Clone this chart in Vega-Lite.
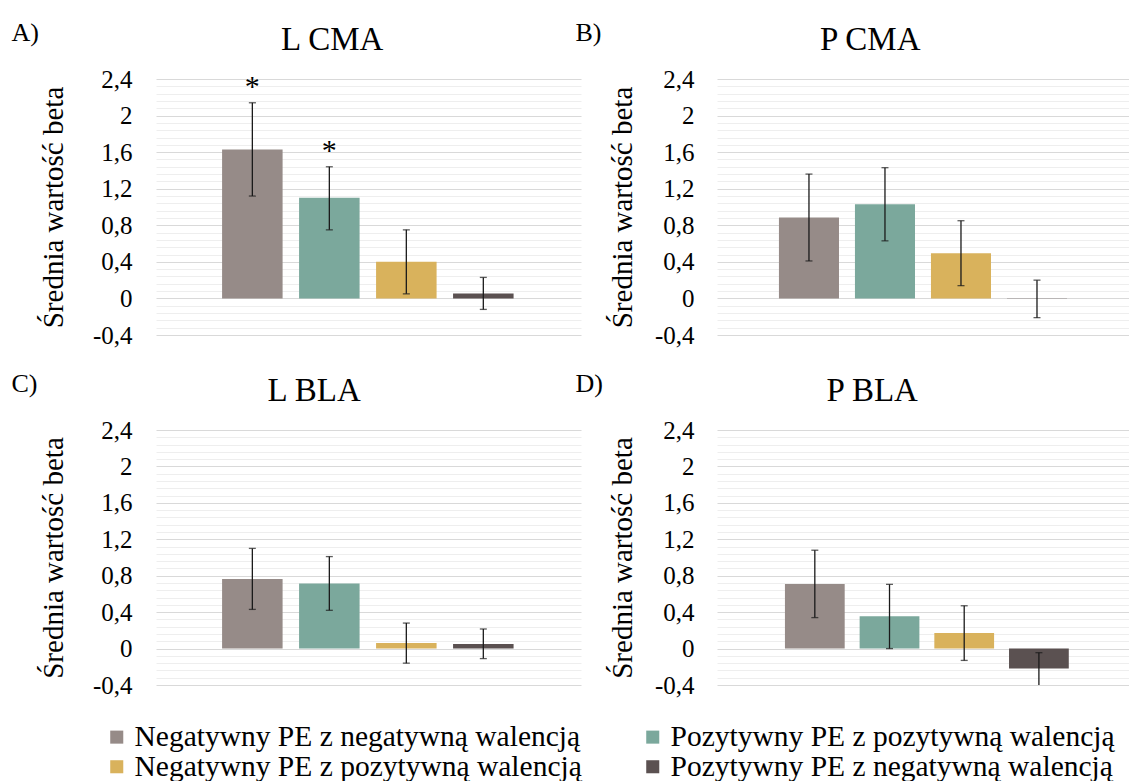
{
  "$schema": "https://vega.github.io/schema/vega-lite/v6.json",
  "padding": {"left": 11, "top": 20, "right": 0, "bottom": 0},
  "background": "white",
  "config": {
    "font": "Liberation Serif",
    "view": {"stroke": null},
    "title": {"font": "Liberation Serif", "fontWeight": "normal", "color": "#000"},
    "axis": {"labelFont": "Liberation Serif", "titleFont": "Liberation Serif"}
  },
  "datasets": {
    "bars": [
      {"panel": "L CMA", "series": "Negatywny PE z negatywną walencją", "mean": 1.63, "lo": 1.12, "hi": 2.14, "sig": "*"},
      {"panel": "L CMA", "series": "Pozytywny PE z pozytywną walencją", "mean": 1.1, "lo": 0.75, "hi": 1.44, "sig": "*"},
      {"panel": "L CMA", "series": "Negatywny PE z pozytywną walencją", "mean": 0.4, "lo": 0.05, "hi": 0.75, "sig": ""},
      {"panel": "L CMA", "series": "Pozytywny PE z negatywną walencją", "mean": 0.055, "lo": -0.12, "hi": 0.23, "sig": ""},
      {"panel": "P CMA", "series": "Negatywny PE z negatywną walencją", "mean": 0.885, "lo": 0.41, "hi": 1.36, "sig": ""},
      {"panel": "P CMA", "series": "Pozytywny PE z pozytywną walencją", "mean": 1.03, "lo": 0.63, "hi": 1.43, "sig": ""},
      {"panel": "P CMA", "series": "Negatywny PE z pozytywną walencją", "mean": 0.495, "lo": 0.14, "hi": 0.85, "sig": ""},
      {"panel": "P CMA", "series": "Pozytywny PE z negatywną walencją", "mean": -0.004, "lo": -0.21, "hi": 0.2, "sig": ""},
      {"panel": "L BLA", "series": "Negatywny PE z negatywną walencją", "mean": 0.765, "lo": 0.43, "hi": 1.1, "sig": ""},
      {"panel": "L BLA", "series": "Pozytywny PE z pozytywną walencją", "mean": 0.715, "lo": 0.42, "hi": 1.01, "sig": ""},
      {"panel": "L BLA", "series": "Negatywny PE z pozytywną walencją", "mean": 0.06, "lo": -0.16, "hi": 0.28, "sig": ""},
      {"panel": "L BLA", "series": "Pozytywny PE z negatywną walencją", "mean": 0.05, "lo": -0.11, "hi": 0.215, "sig": ""},
      {"panel": "P BLA", "series": "Negatywny PE z negatywną walencją", "mean": 0.71, "lo": 0.34, "hi": 1.08, "sig": ""},
      {"panel": "P BLA", "series": "Pozytywny PE z pozytywną walencją", "mean": 0.355, "lo": 0.0, "hi": 0.705, "sig": ""},
      {"panel": "P BLA", "series": "Negatywny PE z pozytywną walencją", "mean": 0.17, "lo": -0.13, "hi": 0.47, "sig": ""},
      {"panel": "P BLA", "series": "Pozytywny PE z negatywną walencją", "mean": -0.22, "lo": -0.41, "hi": -0.045, "sig": ""}
    ]
  },
  "spacing": 23,
  "vconcat": [
    {
      "spacing": -6,
      "hconcat": [
        {
          "title": {"text": "A)", "anchor": "start", "frame": "bounds", "fontSize": 26, "dx": -28, "offset": -22},
          "vconcat": [
            {
              "width": 425, "height": 256,
              "title": {"text": "L CMA", "fontSize": 33, "anchor": "middle", "frame": "bounds", "offset": 10, "dx": 22},
              "data": {"name": "bars"},
              "transform": [{"filter": "datum.panel === 'L CMA'"}],
              "encoding": {"x": {"field": "series", "type": "nominal", "sort": ["Negatywny PE z negatywną walencją", "Pozytywny PE z pozytywną walencją", "Negatywny PE z pozytywną walencją", "Pozytywny PE z negatywną walencją"], "axis": null, "scale": {"paddingInner": 0.214, "paddingOuter": 0.867, "align": 0.495}}},
              "layer": [
                {"mark": {"type": "bar"}, "encoding": {
                  "y": {"field": "mean", "type": "quantitative", "scale": {"domain": [-0.4, 2.4], "nice": false, "zero": false}, "axis": {"orient": "left", "values": [-0.32, -0.24, -0.16, -0.08, 0.08, 0.16, 0.24, 0.32, 0.48, 0.56, 0.64, 0.72, 0.88, 0.96, 1.04, 1.12, 1.28, 1.36, 1.44, 1.52, 1.68, 1.76, 1.84, 1.92, 2.08, 2.16, 2.24, 2.32], "grid": true, "gridColor": "#eeeeee", "labels": false, "ticks": false, "domain": false, "title": null}},
                  "color": {"field": "series", "type": "nominal", "scale": {"domain": ["Negatywny PE z negatywną walencją", "Pozytywny PE z pozytywną walencją", "Negatywny PE z pozytywną walencją", "Pozytywny PE z negatywną walencją"], "range": ["#968B88", "#7BA89C", "#D9B25C", "#5B5151"]}, "legend": {"orient": "none", "legendX": -54, "legendY": 643, "direction": "horizontal", "columns": 2, "title": null, "symbolType": "square", "symbolSize": 170, "symbolStrokeWidth": 0, "labelFontSize": 29.5, "labelFont": "Liberation Serif", "labelColor": "#000", "labelLimit": 0, "columnPadding": 56, "rowPadding": -2, "labelOffset": 3}}
                }},
                {"mark": {"type": "rule", "color": "#1a1a1a", "strokeWidth": 1.3, "clip": true}, "encoding": {
                  "y": {"field": "lo", "type": "quantitative", "axis": {"orient": "left", "values": [-0.4, 0, 0.4, 0.8, 1.2, 1.6, 2, 2.4], "labelExpr": "replace('' + datum.value, '.', ',')", "grid": true, "gridColor": "#d9d9d9", "domain": false, "ticks": false, "labelFontSize": 25, "labelColor": "#000", "labelPadding": 24, "title": "Średnia wartość beta", "titleFontSize": 29, "titleFontWeight": "normal", "titleColor": "#000", "titlePadding": 24}},
                  "y2": {"field": "hi"}
                }},
                {"mark": {"type": "tick", "color": "#1a1a1a", "size": 7, "thickness": 1.3, "clip": true}, "encoding": {"y": {"field": "lo", "type": "quantitative", "axis": null}}},
                {"mark": {"type": "tick", "color": "#1a1a1a", "size": 7, "thickness": 1.3, "clip": true}, "encoding": {"y": {"field": "hi", "type": "quantitative", "axis": null}}},
                {"transform": [{"filter": "datum.sig === '*'"}], "mark": {"type": "text", "fontSize": 30, "baseline": "alphabetic", "dy": -7, "color": "#000"}, "encoding": {"y": {"field": "hi", "type": "quantitative", "axis": null}, "text": {"field": "sig"}}}
              ],
              "resolve": {"axis": {"y": "independent"}}
            }
          ]
        },
        {
          "title": {"text": "B)", "anchor": "start", "frame": "bounds", "fontSize": 26, "dx": -33, "offset": -22},
          "vconcat": [
            {
              "width": 415, "height": 256,
              "title": {"text": "P CMA", "fontSize": 33, "anchor": "middle", "frame": "bounds", "offset": 10},
              "data": {"name": "bars"},
              "transform": [{"filter": "datum.panel === 'P CMA'"}],
              "encoding": {"x": {"field": "series", "type": "nominal", "sort": ["Negatywny PE z negatywną walencją", "Pozytywny PE z pozytywną walencją", "Negatywny PE z pozytywną walencją", "Pozytywny PE z negatywną walencją"], "axis": null, "scale": {"paddingInner": 0.21, "paddingOuter": 0.835, "align": 0.488}}},
              "layer": [
                {"mark": {"type": "bar"}, "encoding": {
                  "y": {"field": "mean", "type": "quantitative", "scale": {"domain": [-0.4, 2.4], "nice": false, "zero": false}, "axis": {"orient": "left", "values": [-0.32, -0.24, -0.16, -0.08, 0.08, 0.16, 0.24, 0.32, 0.48, 0.56, 0.64, 0.72, 0.88, 0.96, 1.04, 1.12, 1.28, 1.36, 1.44, 1.52, 1.68, 1.76, 1.84, 1.92, 2.08, 2.16, 2.24, 2.32], "grid": true, "gridColor": "#eeeeee", "labels": false, "ticks": false, "domain": false, "title": null}},
                  "color": {"field": "series", "type": "nominal", "scale": {"domain": ["Negatywny PE z negatywną walencją", "Pozytywny PE z pozytywną walencją", "Negatywny PE z pozytywną walencją", "Pozytywny PE z negatywną walencją"], "range": ["#968B88", "#7BA89C", "#D9B25C", "#5B5151"]}, "legend": {"orient": "none", "legendX": -54, "legendY": 643, "direction": "horizontal", "columns": 2, "title": null, "symbolType": "square", "symbolSize": 170, "symbolStrokeWidth": 0, "labelFontSize": 29.5, "labelFont": "Liberation Serif", "labelColor": "#000", "labelLimit": 0, "columnPadding": 56, "rowPadding": -2, "labelOffset": 3}}
                }},
                {"mark": {"type": "rule", "color": "#1a1a1a", "strokeWidth": 1.3, "clip": true}, "encoding": {
                  "y": {"field": "lo", "type": "quantitative", "axis": {"orient": "left", "values": [-0.4, 0, 0.4, 0.8, 1.2, 1.6, 2, 2.4], "labelExpr": "replace('' + datum.value, '.', ',')", "grid": true, "gridColor": "#d9d9d9", "domain": false, "ticks": false, "labelFontSize": 25, "labelColor": "#000", "labelPadding": 23, "title": "Średnia wartość beta", "titleFontSize": 29, "titleFontWeight": "normal", "titleColor": "#000", "titlePadding": 17}},
                  "y2": {"field": "hi"}
                }},
                {"mark": {"type": "tick", "color": "#1a1a1a", "size": 7, "thickness": 1.3, "clip": true}, "encoding": {"y": {"field": "lo", "type": "quantitative", "axis": null}}},
                {"mark": {"type": "tick", "color": "#1a1a1a", "size": 7, "thickness": 1.3, "clip": true}, "encoding": {"y": {"field": "hi", "type": "quantitative", "axis": null}}}
              ],
              "resolve": {"axis": {"y": "independent"}}
            }
          ]
        }
      ]
    },
    {
      "spacing": -6,
      "hconcat": [
        {
          "title": {"text": "C)", "anchor": "start", "frame": "bounds", "fontSize": 26, "dx": -28, "offset": -22},
          "vconcat": [
            {
              "width": 425, "height": 255,
              "title": {"text": "L BLA", "fontSize": 33, "anchor": "middle", "frame": "bounds", "offset": 10, "dx": 4},
              "data": {"name": "bars"},
              "transform": [{"filter": "datum.panel === 'L BLA'"}],
              "encoding": {"x": {"field": "series", "type": "nominal", "sort": ["Negatywny PE z negatywną walencją", "Pozytywny PE z pozytywną walencją", "Negatywny PE z pozytywną walencją", "Pozytywny PE z negatywną walencją"], "axis": null, "scale": {"paddingInner": 0.214, "paddingOuter": 0.867, "align": 0.495}}},
              "layer": [
                {"mark": {"type": "bar"}, "encoding": {
                  "y": {"field": "mean", "type": "quantitative", "scale": {"domain": [-0.4, 2.4], "nice": false, "zero": false}, "axis": {"orient": "left", "values": [-0.32, -0.24, -0.16, -0.08, 0.08, 0.16, 0.24, 0.32, 0.48, 0.56, 0.64, 0.72, 0.88, 0.96, 1.04, 1.12, 1.28, 1.36, 1.44, 1.52, 1.68, 1.76, 1.84, 1.92, 2.08, 2.16, 2.24, 2.32], "grid": true, "gridColor": "#eeeeee", "labels": false, "ticks": false, "domain": false, "title": null}},
                  "color": {"field": "series", "type": "nominal", "scale": {"domain": ["Negatywny PE z negatywną walencją", "Pozytywny PE z pozytywną walencją", "Negatywny PE z pozytywną walencją", "Pozytywny PE z negatywną walencją"], "range": ["#968B88", "#7BA89C", "#D9B25C", "#5B5151"]}, "legend": {"orient": "none", "legendX": -54, "legendY": 643, "direction": "horizontal", "columns": 2, "title": null, "symbolType": "square", "symbolSize": 170, "symbolStrokeWidth": 0, "labelFontSize": 29.5, "labelFont": "Liberation Serif", "labelColor": "#000", "labelLimit": 0, "columnPadding": 56, "rowPadding": -2, "labelOffset": 3}}
                }},
                {"mark": {"type": "rule", "color": "#1a1a1a", "strokeWidth": 1.3, "clip": true}, "encoding": {
                  "y": {"field": "lo", "type": "quantitative", "axis": {"orient": "left", "values": [-0.4, 0, 0.4, 0.8, 1.2, 1.6, 2, 2.4], "labelExpr": "replace('' + datum.value, '.', ',')", "grid": true, "gridColor": "#d9d9d9", "domain": false, "ticks": false, "labelFontSize": 25, "labelColor": "#000", "labelPadding": 24, "title": "Średnia wartość beta", "titleFontSize": 29, "titleFontWeight": "normal", "titleColor": "#000", "titlePadding": 24}},
                  "y2": {"field": "hi"}
                }},
                {"mark": {"type": "tick", "color": "#1a1a1a", "size": 7, "thickness": 1.3, "clip": true}, "encoding": {"y": {"field": "lo", "type": "quantitative", "axis": null}}},
                {"mark": {"type": "tick", "color": "#1a1a1a", "size": 7, "thickness": 1.3, "clip": true}, "encoding": {"y": {"field": "hi", "type": "quantitative", "axis": null}}}
              ],
              "resolve": {"axis": {"y": "independent"}}
            }
          ]
        },
        {
          "title": {"text": "D)", "anchor": "start", "frame": "bounds", "fontSize": 26, "dx": -33, "offset": -22},
          "vconcat": [
            {
              "width": 415, "height": 255,
              "title": {"text": "P BLA", "fontSize": 33, "anchor": "middle", "frame": "bounds", "offset": 10, "dx": 2},
              "data": {"name": "bars"},
              "transform": [{"filter": "datum.panel === 'P BLA'"}],
              "encoding": {"x": {"field": "series", "type": "nominal", "sort": ["Negatywny PE z negatywną walencją", "Pozytywny PE z pozytywną walencją", "Negatywny PE z pozytywną walencją", "Pozytywny PE z negatywną walencją"], "axis": null, "scale": {"paddingInner": 0.2, "paddingOuter": 0.878, "align": 0.518}}},
              "layer": [
                {"mark": {"type": "bar"}, "encoding": {
                  "y": {"field": "mean", "type": "quantitative", "scale": {"domain": [-0.4, 2.4], "nice": false, "zero": false}, "axis": {"orient": "left", "values": [-0.32, -0.24, -0.16, -0.08, 0.08, 0.16, 0.24, 0.32, 0.48, 0.56, 0.64, 0.72, 0.88, 0.96, 1.04, 1.12, 1.28, 1.36, 1.44, 1.52, 1.68, 1.76, 1.84, 1.92, 2.08, 2.16, 2.24, 2.32], "grid": true, "gridColor": "#eeeeee", "labels": false, "ticks": false, "domain": false, "title": null}},
                  "color": {"field": "series", "type": "nominal", "scale": {"domain": ["Negatywny PE z negatywną walencją", "Pozytywny PE z pozytywną walencją", "Negatywny PE z pozytywną walencją", "Pozytywny PE z negatywną walencją"], "range": ["#968B88", "#7BA89C", "#D9B25C", "#5B5151"]}, "legend": {"orient": "none", "legendX": -54, "legendY": 643, "direction": "horizontal", "columns": 2, "title": null, "symbolType": "square", "symbolSize": 170, "symbolStrokeWidth": 0, "labelFontSize": 29.5, "labelFont": "Liberation Serif", "labelColor": "#000", "labelLimit": 0, "columnPadding": 56, "rowPadding": -2, "labelOffset": 3}}
                }},
                {"mark": {"type": "rule", "color": "#1a1a1a", "strokeWidth": 1.3, "clip": true}, "encoding": {
                  "y": {"field": "lo", "type": "quantitative", "axis": {"orient": "left", "values": [-0.4, 0, 0.4, 0.8, 1.2, 1.6, 2, 2.4], "labelExpr": "replace('' + datum.value, '.', ',')", "grid": true, "gridColor": "#d9d9d9", "domain": false, "ticks": false, "labelFontSize": 25, "labelColor": "#000", "labelPadding": 23, "title": "Średnia wartość beta", "titleFontSize": 29, "titleFontWeight": "normal", "titleColor": "#000", "titlePadding": 17}},
                  "y2": {"field": "hi"}
                }},
                {"mark": {"type": "tick", "color": "#1a1a1a", "size": 7, "thickness": 1.3, "clip": true}, "encoding": {"y": {"field": "lo", "type": "quantitative", "axis": null}}},
                {"mark": {"type": "tick", "color": "#1a1a1a", "size": 7, "thickness": 1.3, "clip": true}, "encoding": {"y": {"field": "hi", "type": "quantitative", "axis": null}}}
              ],
              "resolve": {"axis": {"y": "independent"}}
            }
          ]
        }
      ]
    }
  ]
}
